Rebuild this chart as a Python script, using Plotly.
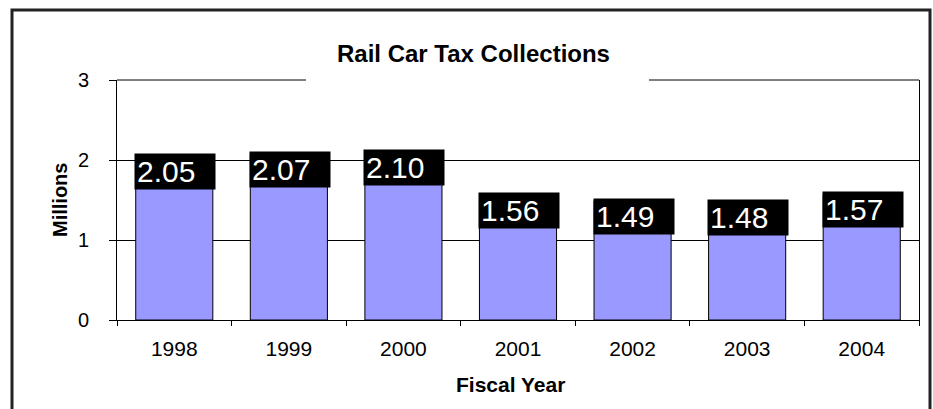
import plotly.graph_objects as go

years = ["1998", "1999", "2000", "2001", "2002", "2003", "2004"]
collections = [2.05, 2.07, 2.10, 1.56, 1.49, 1.48, 1.57]
labels = ["2.05", "2.07", "2.10", "1.56", "1.49", "1.48", "1.57"]

FONT = "Arial, Liberation Sans, sans-serif"

# plot area in pixels: x 117..919, y 80..320
L, R, T, B = 117, 919, 80, 320
W, H = R - L, B - T


def px_x(p):
    return (p - L) / W


def px_y(p):
    return (B - p) / H


fig = go.Figure()

fig.add_trace(go.Bar(
    x=years,
    y=collections,
    marker=dict(color="#9999FF", line=dict(color="black", width=1)),
    hoverinfo="x+y",
))

# black value boxes sitting on top of each bar (x given as category index)
for i, (v, lab) in enumerate(zip(collections, labels)):
    fig.add_annotation(
        x=i, y=v, xref="x", yref="y",
        text=lab, showarrow=False,
        xanchor="center", yanchor="top",
        xshift=1, yshift=3,
        width=76, height=31, align="left", valign="middle",
        bgcolor="black", borderpad=2,
        font=dict(family=FONT, size=30, color="white"),
    )

# chart title
fig.add_annotation(
    x=px_x(473), y=px_y(54), xref="paper", yref="paper",
    text="<b>Rail Car Tax Collections</b>", showarrow=False,
    xanchor="center", yanchor="middle",
    font=dict(family=FONT, size=24, color="black"),
)

# axis titles
fig.add_annotation(
    x=px_x(60), y=0.5, xref="paper", yref="paper",
    text="<b>Millions</b>", showarrow=False, textangle=-90,
    xanchor="center", yanchor="middle",
    font=dict(family=FONT, size=20, color="black"),
)
fig.add_annotation(
    x=px_x(510), y=px_y(384), xref="paper", yref="paper",
    text="<b>Fiscal Year</b>", showarrow=False,
    xanchor="center", yanchor="middle",
    font=dict(family=FONT, size=21, color="black"),
)

# top edge of plot area, broken where the title sits
fig.add_shape(type="line", xref="paper", yref="paper",
              x0=0, x1=px_x(306), y0=1, y1=1, line=dict(color="black", width=1))
fig.add_shape(type="line", xref="paper", yref="paper",
              x0=px_x(649), x1=1, y0=1, y1=1, line=dict(color="black", width=1))

# outer frame (open at the bottom)
xl, xr, yt, yb = px_x(12), px_x(930), px_y(10), px_y(430)
fig.add_shape(type="path", xref="paper", yref="paper",
              path=f"M {xl},{yb} L {xl},{yt} L {xr},{yt} L {xr},{yb}",
              line=dict(color="#222222", width=3))

fig.update_layout(
    width=933, height=409,
    margin=dict(l=L, r=933 - R, t=T, b=409 - B, autoexpand=False),
    paper_bgcolor="white", plot_bgcolor="white",
    showlegend=False,
    bargap=0.327,
    font=dict(family=FONT, size=20, color="black"),
    xaxis=dict(
        type="category",
        range=[-0.5, len(years) - 0.5],
        showline=True, linecolor="black", linewidth=1,
        ticks="outside", tickson="boundaries", ticklen=5,
        tickcolor="black", tickwidth=1,
        showgrid=False,
        tickfont=dict(family=FONT, size=21, color="black"),
        ticklabelstandoff=10,
    ),
    yaxis=dict(
        range=[0, 3], tickvals=[0, 1, 2, 3],
        showline=True, mirror=True, linecolor="black", linewidth=1,
        ticks="outside", ticklen=7, tickcolor="black", tickwidth=1,
        showgrid=True, gridcolor="black", gridwidth=1,
        zeroline=False,
        tickfont=dict(family=FONT, size=20, color="black"),
        ticklabelstandoff=16,
    ),
)

fig.write_html(
    "out.html",
    config={"displayModeBar": False},
    post_script="document.body.style.margin='0';document.body.style.overflow='hidden';",
)
